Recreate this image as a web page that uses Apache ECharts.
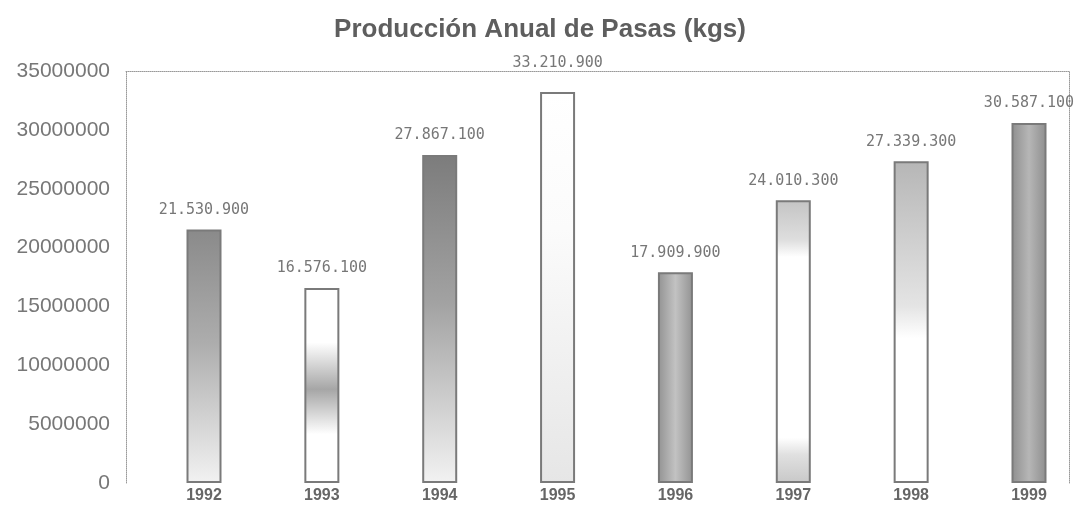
<!DOCTYPE html>
<html>
<head>
<meta charset="utf-8">
<script src="https://cdn.jsdelivr.net/npm/echarts@6/dist/echarts.min.js"></script>
<style>html,body{margin:0;padding:0;background:#fff;}#c{width:1080px;height:523px;}</style>
</head>
<body>
<div id="c"></div>
<script>
var titleText = 'Producción Anual de Pasas (kgs)';
var years = ['1992','1993','1994','1995','1996','1997','1998','1999'];
var production = [21530900, 16576100, 27867100, 33210900, 17909900, 24010300, 27339300, 30587100];
var yTicks = [0, 5000000, 10000000, 15000000, 20000000, 25000000, 30000000, 35000000];

function fmt(v){ return String(v).replace(/\B(?=(\d{3})+(?!\d))/g, '.'); }
function lin(stops, horiz){
  return new echarts.graphic.LinearGradient(0, 0, horiz ? 1 : 0, horiz ? 0 : 1,
    stops.map(function(s){ return {offset:s[0], color:s[1]}; }));
}
var fills = [
  lin([[0,'#8a8a8a'],[0.45,'#adadad'],[1,'#f2f2f2']]),
  lin([[0,'#ffffff'],[0.28,'#ffffff'],[0.52,'#a6a6a6'],[0.75,'#ffffff'],[1,'#ffffff']]),
  lin([[0,'#7c7c7c'],[0.45,'#a2a2a2'],[1,'#f2f2f2']]),
  lin([[0,'#ffffff'],[0.35,'#fbfbfb'],[1,'#e6e6e6']]),
  lin([[0,'#929292'],[0.5,'#c2c2c2'],[1,'#929292']], true),
  lin([[0,'#c4c4c4'],[0.14,'#dedede'],[0.2,'#ffffff'],[0.84,'#ffffff'],[0.9,'#e0e0e0'],[1,'#c8c8c8']]),
  lin([[0,'#b6b6b6'],[0.45,'#e4e4e4'],[0.55,'#ffffff'],[1,'#ffffff']]),
  lin([[0,'#8e8e8e'],[0.5,'#b6b6b6'],[1,'#8e8e8e']], true)
];

var barData = production.map(function(v, i){
  var d = {value: v, itemStyle: {color: fills[i]}};
  if (i === 3) d.label = {distance: 21};
  return d;
});

var dotted = {show:true, onZero:false, lineStyle:{color:'#999', type:'dotted', width:1}};
var chart = echarts.init(document.getElementById('c'), null, {renderer:'canvas'});
chart.setOption({
  backgroundColor:'#ffffff',
  animation:false,
  title:{text:titleText, left:'center', top:12, textStyle:{fontFamily:'Liberation Sans', fontSize:26, fontWeight:'bold', color:'#5e5e5e'}},
  grid:[
    {left:126, right:11, top:71, bottom:40},
    {left:204, right:51, top:71, bottom:40}
  ],
  xAxis:[
    {gridIndex:0, type:'value', position:'top', min:0, max:1, axisLine:dotted, axisTick:{show:false}, axisLabel:{show:false}, splitLine:{show:false}},
    {gridIndex:1, type:'category', data:years, boundaryGap:false, axisLine:{show:false, onZero:false}, axisTick:{show:false}, splitLine:{show:false},
     axisLabel:{margin:5, fontFamily:'Liberation Sans', fontSize:16, fontWeight:'bold', color:'#666'}}
  ],
  yAxis:[
    {gridIndex:0, type:'value', min:0, max:35000000, interval:5000000, axisLine:dotted, axisTick:{show:false}, splitLine:{show:false},
     axisLabel:{margin:16, fontFamily:'Liberation Sans', fontSize:21, color:'#777', formatter:function(v){ return yTicks.indexOf(v) >= 0 ? String(v) : ''; }}},
    {gridIndex:0, type:'value', position:'right', min:0, max:35000000, axisLine:dotted, axisTick:{show:false}, axisLabel:{show:false}, splitLine:{show:false}},
    {gridIndex:1, type:'value', min:0, max:35000000, show:false, splitLine:{show:false}}
  ],
  series:[{
    type:'bar', xAxisIndex:1, yAxisIndex:2, barWidth:35, data:barData,
    itemStyle:{borderColor:'#7a7a7a', borderWidth:2},
    label:{show:true, position:'top', distance:12, fontFamily:'DejaVu Sans Mono', fontSize:15, color:'#777',
      formatter:function(p){ return fmt(p.value); }}
  }]
});
</script>
</body>
</html>
